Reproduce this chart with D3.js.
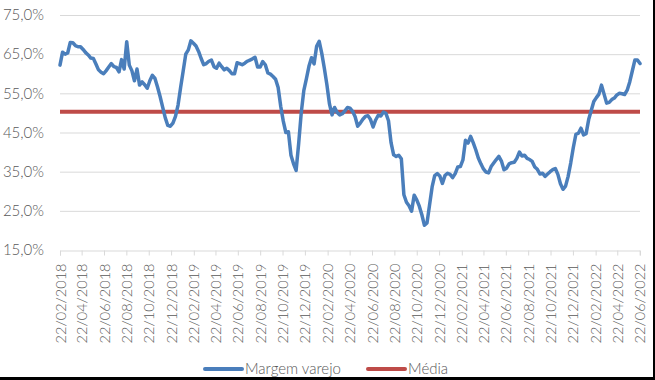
<!DOCTYPE html>
<html>
<head>
<meta charset="utf-8">
<script src="https://cdn.jsdelivr.net/npm/d3@7"></script>
<style>
  body { margin: 0; background: #fff; }
  svg text { font-family: Lato, "Open Sans", sans-serif; font-weight: 300; fill: #595959; }
</style>
</head>
<body>
<script>
// weekly series, first week 22/02/2018
var startDate = "2018-02-22";

var margem = [
  62.2, 65.5, 65.0, 65.3, 68.0, 67.9, 67.2, 66.9, 66.9, 66.2,
  65.4, 64.8, 64.0, 63.9, 62.5, 61.0, 60.4, 60.0, 60.8, 61.7,
  62.6, 61.8, 61.6, 60.5, 63.6, 61.2, 68.2, 62.2, 60.8, 58.2,
  61.2, 57.1, 57.9, 57.2, 56.3, 58.2, 59.6, 58.8, 56.6, 54.2,
  51.5, 48.8, 46.8, 46.6, 47.4, 49.1, 52.0, 56.5, 60.7, 65.0,
  66.1, 68.4, 67.8, 67.1, 65.7, 63.9, 62.3, 62.6, 63.2, 63.5,
  61.8, 61.4, 62.7, 61.8, 61.0, 61.4, 60.8, 60.0, 60.0, 62.8,
  62.6, 62.3, 62.7, 63.2, 63.5, 63.8, 64.2, 61.7, 61.7, 63.1,
  62.3, 60.2, 59.9, 59.3, 58.6, 56.5, 51.7, 47.9, 45.0, 45.2,
  39.2, 37.0, 35.3, 42.2, 50.0, 55.7, 58.7, 61.9, 64.1, 62.5,
  67.0, 68.3, 65.2, 61.4, 57.2, 52.3, 49.5, 51.4, 50.1, 49.5,
  49.8, 50.5, 51.4, 51.2, 50.4, 49.0, 46.6, 47.4, 48.4, 49.1,
  49.3, 48.3, 46.4, 48.2, 49.4, 49.2, 50.2, 49.9, 48.0, 42.4,
  39.3, 38.9, 39.2, 38.3, 29.1, 27.2, 26.3, 24.9, 29.0, 27.8,
  26.2, 24.0, 21.3, 21.9, 26.5, 31.1, 34.0, 34.5, 33.9, 32.0,
  34.0, 34.6, 34.3, 33.5, 34.5, 36.2, 36.3, 38.0, 43.0, 42.3,
  44.0, 42.4, 40.6, 38.5, 37.0, 35.7, 34.9, 34.7, 36.3, 37.2,
  38.1, 38.9, 37.7, 35.5, 35.9, 37.0, 37.3, 37.4, 38.4, 40.0,
  39.0, 39.2, 38.4, 38.1, 37.6, 36.2, 35.6, 34.4, 34.6, 33.8,
  34.4, 35.0, 35.5, 35.8, 34.3, 31.9, 30.5, 31.3, 33.8, 37.2,
  41.1, 44.5, 44.8, 46.1, 44.4, 44.7, 48.3, 50.6, 52.9, 53.9,
  54.8, 57.1, 54.8, 52.5, 52.7, 53.4, 53.8, 54.6, 55.0, 54.9,
  54.7, 55.8, 57.9, 60.7, 63.5, 63.5, 62.6
];

var media = 50.3;

var yTicks = [15, 25, 35, 45, 55, 65, 75];

var xTickLabels = [
  "22/02/2018", "22/04/2018", "22/06/2018", "22/08/2018", "22/10/2018", "22/12/2018",
  "22/02/2019", "22/04/2019", "22/06/2019", "22/08/2019", "22/10/2019", "22/12/2019",
  "22/02/2020", "22/04/2020", "22/06/2020", "22/08/2020", "22/10/2020", "22/12/2020",
  "22/02/2021", "22/04/2021", "22/06/2021", "22/08/2021", "22/10/2021", "22/12/2021",
  "22/02/2022", "22/04/2022", "22/06/2022"
];

var width = 655,
    height = 380;

var svg = d3.select("body").append("svg")
    .attr("width", width)
    .attr("height", height);

var parseIso = d3.timeParse("%Y-%m-%d"),
    parseBr = d3.timeParse("%d/%m/%Y");

var t0 = parseIso(startDate);
var data = margem.map(function(v, i) {
  return { date: d3.timeDay.offset(t0, 7 * i), value: v };
});

var x = d3.scaleTime()
    .domain(d3.extent(data, function(d) { return d.date; }))
    .range([60, 640]);

var y = d3.scaleLinear()
    .domain([15, 75])
    .range([250, 15]);

// gridlines
svg.append("g")
  .selectAll("line")
  .data(yTicks.slice(1))
  .enter().append("line")
    .attr("x1", 60).attr("x2", 640)
    .attr("y1", function(d) { return y(d) + 0.5; })
    .attr("y2", function(d) { return y(d) + 0.5; })
    .attr("stroke", "#d9d9d9")
    .attr("stroke-width", 1);

// y axis labels
var yAxis = svg.append("g")
    .attr("transform", "translate(60,0)")
    .call(d3.axisLeft(y)
      .tickValues(yTicks)
      .tickSize(0)
      .tickPadding(16)
      .tickFormat(function(d) { return d.toFixed(1).replace(".", ",") + "%"; }));
yAxis.select(".domain").remove();
yAxis.selectAll("text")
    .style("font-size", "15px")
    .style("font-family", "Lato, sans-serif")
    .style("font-weight", 300)
    .attr("fill", "#595959");

// x axis
var xAxis = svg.append("g")
    .attr("transform", "translate(0,250.5)")
    .call(d3.axisBottom(x)
      .tickValues(xTickLabels.map(parseBr))
      .tickSize(5)
      .tickFormat(d3.timeFormat("%d/%m/%Y")));
xAxis.select(".domain").attr("stroke", "#d9d9d9");
xAxis.selectAll(".tick line").attr("stroke", "#d9d9d9");
xAxis.selectAll("text")
    .attr("transform", "rotate(-90)")
    .attr("x", -13)
    .attr("y", 0)
    .attr("dy", "0.35em")
    .style("text-anchor", "end")
    .style("font-size", "14.5px")
    .style("font-family", "Lato, sans-serif")
    .style("font-weight", 300)
    .attr("fill", "#595959");

// Média
svg.append("line")
    .attr("x1", 60).attr("x2", 640)
    .attr("y1", y(media)).attr("y2", y(media))
    .attr("stroke", "#be4b48")
    .attr("stroke-width", 4);

// Margem varejo
var line = d3.line()
    .x(function(d) { return x(d.date); })
    .y(function(d) { return y(d.value); });

svg.append("path")
    .datum(data)
    .attr("d", line)
    .attr("fill", "none")
    .attr("stroke", "#4a7ebb")
    .attr("stroke-width", 3.5)
    .attr("stroke-linejoin", "round")
    .attr("stroke-linecap", "round");

// legend
var legend = [
  { name: "Margem varejo", color: "#4a7ebb", x: 205 },
  { name: "Média", color: "#be4b48", x: 368 }
];
var lg = svg.append("g").selectAll("g")
    .data(legend)
    .enter().append("g")
    .attr("transform", function(d) { return "translate(" + d.x + ",369)"; });
lg.append("line")
    .attr("x1", 0).attr("x2", 37)
    .attr("stroke", function(d) { return d.color; })
    .attr("stroke-width", 4)
    .attr("stroke-linecap", "round");
lg.append("text")
    .attr("x", 40)
    .attr("y", 5)
    .style("font-size", "15px")
    .text(function(d) { return d.name; });

// frame edge visible in the reference
svg.append("rect").attr("x", 653).attr("y", 0).attr("width", 2).attr("height", 380).attr("fill", "#000");
svg.append("rect").attr("x", 0).attr("y", 377).attr("width", 655).attr("height", 3).attr("fill", "#000");
</script>
</body>
</html>
